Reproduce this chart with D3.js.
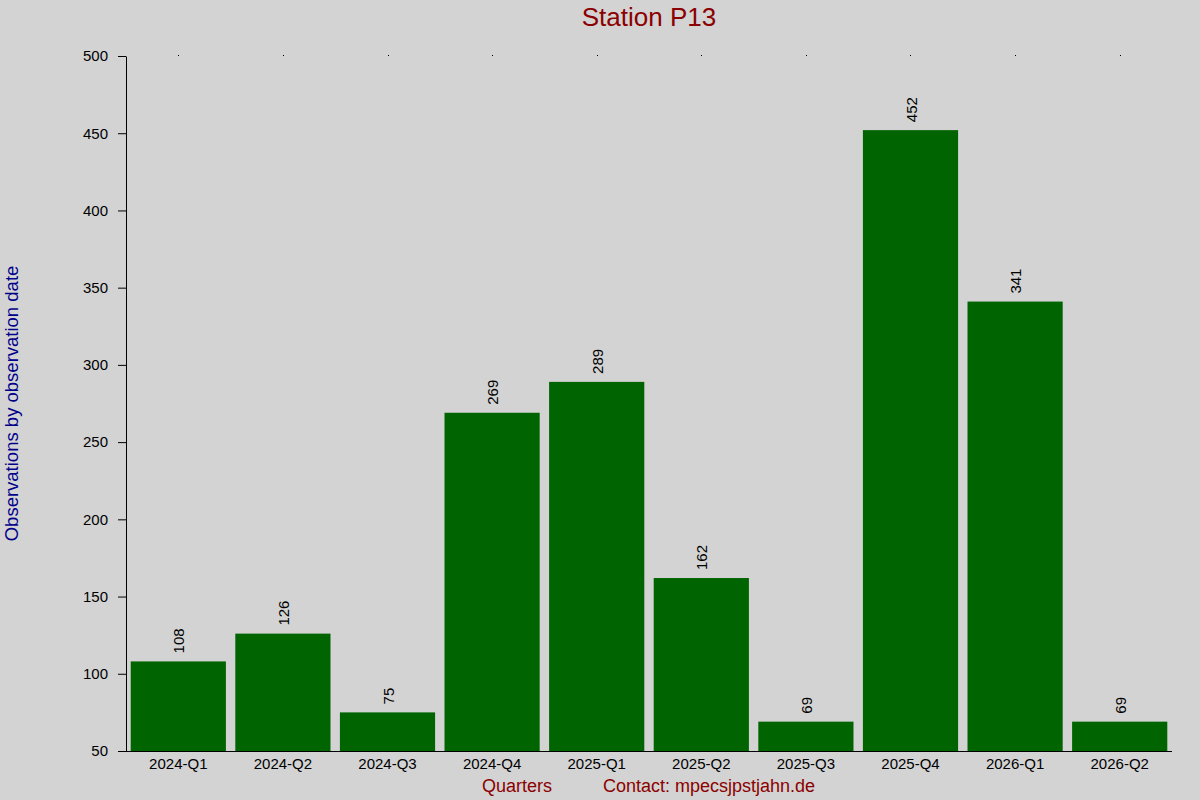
<!DOCTYPE html>
<html>
<head>
<meta charset="utf-8">
<script src="https://cdn.jsdelivr.net/npm/d3@7"></script>
<style>
  body { margin: 0; background: #d3d3d3; }
  svg { display: block; font-family: "Liberation Sans", Arial, sans-serif; }
</style>
</head>
<body>
<svg id="chart" width="1200" height="800"></svg>
<script>
// data
const quarters = ['2024-Q1', '2024-Q2', '2024-Q3', '2024-Q4', '2025-Q1', '2025-Q2', '2025-Q3', '2025-Q4', '2026-Q1', '2026-Q2']
const counts = [108, 126, 75, 269, 289, 162, 69, 452, 341, 69]
const yTicks = [50, 100, 150, 200, 250, 300, 350, 400, 450, 500]

const margin = { top: 56, right: 28, bottom: 49, left: 126 }
const width = 1200, height = 800
const font = '"Liberation Sans", Arial, sans-serif'

const svg = d3.select('#chart')
svg.append('rect').attr('width', width).attr('height', height).attr('fill', '#d3d3d3')

const x = d3.scaleBand().domain(quarters)
    .range([margin.left, width - margin.right])
    .paddingInner(0.09).paddingOuter(0.045)
const y = d3.scaleLinear().domain([50, 500]).range([height - margin.bottom, margin.top])

const data = quarters.map((q, i) => ({ q: q, v: counts[i] }))

// bars
svg.append('g').selectAll('rect').data(data).enter().append('rect')
    .attr('x', d => x(d.q))
    .attr('y', d => y(d.v))
    .attr('width', x.bandwidth())
    .attr('height', d => y(50) - y(d.v))
    .attr('fill', '#006400')

// value labels
svg.append('g').selectAll('text').data(data).enter().append('text')
    .attr('transform', d => `translate(${x(d.q) + x.bandwidth() / 2 + 6}, ${y(d.v) - 8}) rotate(-90)`)
    .attr('font-size', '15px')
    .attr('fill', '#000')
    .text(d => d.v)

// y axis
const yAxis = svg.append('g')
    .attr('transform', `translate(${margin.left},0)`)
    .call(d3.axisLeft(y).tickValues(yTicks).tickSize(8).tickSizeOuter(0).tickPadding(10))
yAxis.selectAll('text').attr('font-size', '15px').attr('fill', '#000').attr('font-family', font)
yAxis.selectAll('line, path').attr('stroke', '#000')

// x axis
const xAxis = svg.append('g')
    .attr('transform', `translate(0,${height - margin.bottom})`)
    .call(d3.axisBottom(x).tickSize(0).tickSizeOuter(0).tickPadding(7))
xAxis.selectAll('text').attr('font-size', '15px').attr('fill', '#000').attr('font-family', font)
xAxis.select('path').attr('stroke', '#000').attr('d', `M${margin.left},0.5H${width - margin.right}`)

// small marks on top edge at band centres
svg.append('g').selectAll('rect').data(quarters).enter().append('rect')
    .attr('x', d => Math.round(x(d) + x.bandwidth() / 2))
    .attr('y', margin.top - 1)
    .attr('width', 1).attr('height', 1)
    .attr('fill', '#000')

// title
svg.append('text')
    .attr('x', 649).attr('y', 26)
    .attr('text-anchor', 'middle')
    .attr('font-size', '26px')
    .attr('fill', '#8b0000')
    .text('Station P13')

// y label
svg.append('text')
    .attr('transform', `translate(18, ${(margin.top + height - margin.bottom) / 2}) rotate(-90)`)
    .attr('text-anchor', 'middle')
    .attr('font-size', '18.5px')
    .attr('fill', '#00008b')
    .text('Observations by observation date')

// footer
svg.append('text')
    .attr('x', 517).attr('y', 792)
    .attr('text-anchor', 'middle')
    .attr('font-size', '18px')
    .attr('fill', '#8b0000')
    .text('Quarters')
svg.append('text')
    .attr('x', 603).attr('y', 792)
    .attr('font-size', '18px')
    .attr('fill', '#8b0000')
    .text('Contact: mpecsjpstjahn.de')
</script>
</body>
</html>
